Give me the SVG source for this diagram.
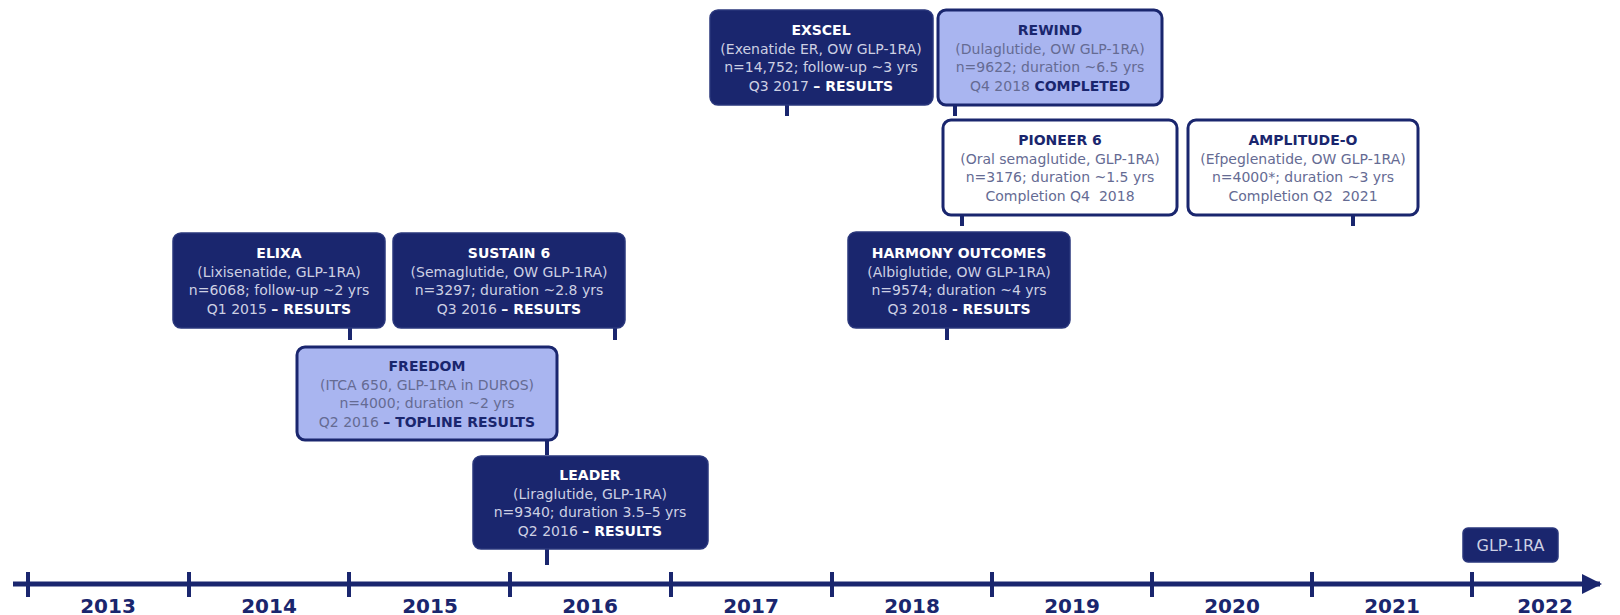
<svg xmlns="http://www.w3.org/2000/svg" width="1620" height="615" viewBox="0 0 1620 615">
  <style>
    text { font-family: "DejaVu Sans", Verdana, sans-serif; font-size: 14px; text-anchor: middle; }
    .dark rect { fill: #1a266e; stroke: #2a377c; stroke-width: 1.5; }
    .light rect { fill: #a9b5f0; stroke: #1a266e; stroke-width: 3; }
    .white rect { fill: #ffffff; stroke: #1a266e; stroke-width: 3; }
    .dark text { fill: #cdd0e3; }
    .dark .t, .dark .b { fill: #ffffff; font-weight: bold; }
    .light text, .white text { fill: #656b93; }
    .light .t, .light .b, .white .t { fill: #1a266e; font-weight: bold; }
    .stub { stroke: #1a266e; stroke-width: 4; }
    .axis { stroke: #1a266e; stroke-width: 5; fill: none; }
    .tick { stroke: #1a266e; stroke-width: 4; }
    .year { font-size: 20px; font-weight: bold; fill: #1a266e; }
  </style>
  <defs>
    <marker id="arrow" viewBox="0 0 10 10" refX="9" refY="5" markerWidth="4" markerHeight="4" markerUnits="strokeWidth" orient="auto">
      <path d="M0,0 L10,5 L0,10 Z" fill="#1a266e"/>
    </marker>
  </defs>

  <rect width="1620" height="615" fill="#ffffff"/>

  <!-- callout stubs and time axis -->
  <g id="connectors">
    <line class="stub" x1="350" y1="327" x2="350" y2="340"/>
    <line class="stub" x1="615" y1="327" x2="615" y2="340"/>
    <line class="stub" x1="547" y1="439" x2="547" y2="455"/>
    <line class="stub" x1="547" y1="548" x2="547" y2="565"/>
    <line class="stub" x1="787" y1="104" x2="787" y2="116"/>
    <line class="stub" x1="955" y1="104" x2="955" y2="116"/>
    <line class="stub" x1="962" y1="214" x2="962" y2="226"/>
    <line class="stub" x1="1353" y1="214" x2="1353" y2="226"/>
    <line class="stub" x1="947" y1="327" x2="947" y2="340"/>
    <line class="axis" x1="13" y1="584" x2="1600" y2="584" marker-end="url(#arrow)"/>
    <g class="ticks">
      <line class="tick" x1="28" y1="572" x2="28" y2="597"/>
      <line class="tick" x1="189" y1="572" x2="189" y2="597"/>
      <line class="tick" x1="349" y1="572" x2="349" y2="597"/>
      <line class="tick" x1="510" y1="572" x2="510" y2="597"/>
      <line class="tick" x1="671" y1="572" x2="671" y2="597"/>
      <line class="tick" x1="832" y1="572" x2="832" y2="597"/>
      <line class="tick" x1="992" y1="572" x2="992" y2="597"/>
      <line class="tick" x1="1152" y1="572" x2="1152" y2="597"/>
      <line class="tick" x1="1312" y1="572" x2="1312" y2="597"/>
      <line class="tick" x1="1472" y1="572" x2="1472" y2="597"/>
    </g>
  </g>

  <!-- year labels -->
  <g id="years">
    <text class="year" x="108" y="613">2013</text>
    <text class="year" x="269" y="613">2014</text>
    <text class="year" x="430" y="613">2015</text>
    <text class="year" x="590" y="613">2016</text>
    <text class="year" x="751" y="613">2017</text>
    <text class="year" x="912" y="613">2018</text>
    <text class="year" x="1072" y="613">2019</text>
    <text class="year" x="1232" y="613">2020</text>
    <text class="year" x="1392" y="613">2021</text>
    <text class="year" x="1545" y="613">2022</text>
  </g>

  <g id="elixa" class="dark">
    <rect x="173" y="233" width="212" height="95" rx="8"/>
    <text class="t" x="279" y="258">ELIXA</text>
    <text x="279" y="276.5">(Lixisenatide, GLP-1RA)</text>
    <text x="279" y="295">n=6068; follow-up ~2 yrs</text>
    <text x="279" y="313.5">Q1 2015 <tspan class="b">– RESULTS</tspan></text>
  </g>

  <g id="sustain6" class="dark">
    <rect x="393" y="233" width="232" height="95" rx="8"/>
    <text class="t" x="509" y="258">SUSTAIN 6</text>
    <text x="509" y="276.5">(Semaglutide, OW GLP-1RA)</text>
    <text x="509" y="295">n=3297; duration ~2.8 yrs</text>
    <text x="509" y="313.5">Q3 2016 <tspan class="b">– RESULTS</tspan></text>
  </g>

  <g id="freedom" class="light">
    <rect x="297" y="347" width="260" height="93" rx="8"/>
    <text class="t" x="427" y="371">FREEDOM</text>
    <text x="427" y="389.5">(ITCA 650, GLP-1RA in DUROS)</text>
    <text x="427" y="408">n=4000; duration ~2 yrs</text>
    <text x="427" y="426.5">Q2 2016 <tspan class="b">– TOPLINE RESULTS</tspan></text>
  </g>

  <g id="leader" class="dark">
    <rect x="473" y="456" width="235" height="93" rx="8"/>
    <text class="t" x="590" y="480">LEADER</text>
    <text x="590" y="498.5">(Liraglutide, GLP-1RA)</text>
    <text x="590" y="517">n=9340; duration 3.5–5 yrs</text>
    <text x="590" y="535.5">Q2 2016 <tspan class="b">– RESULTS</tspan></text>
  </g>

  <g id="exscel" class="dark">
    <rect x="710" y="10" width="223" height="95" rx="8"/>
    <text class="t" x="821" y="35">EXSCEL</text>
    <text x="821" y="53.5">(Exenatide ER, OW GLP-1RA)</text>
    <text x="821" y="72">n=14,752; follow-up ~3 yrs</text>
    <text x="821" y="90.5">Q3 2017 <tspan class="b">– RESULTS</tspan></text>
  </g>

  <g id="rewind" class="light">
    <rect x="938" y="10" width="224" height="95" rx="8"/>
    <text class="t" x="1050" y="35">REWIND</text>
    <text x="1050" y="53.5">(Dulaglutide, OW GLP-1RA)</text>
    <text x="1050" y="72">n=9622; duration ~6.5 yrs</text>
    <text x="1050" y="90.5">Q4 2018 <tspan class="b">COMPLETED</tspan></text>
  </g>

  <g id="pioneer6" class="white">
    <rect x="943" y="120" width="234" height="95" rx="8"/>
    <text class="t" x="1060" y="145">PIONEER 6</text>
    <text x="1060" y="163.5">(Oral semaglutide, GLP-1RA)</text>
    <text x="1060" y="182">n=3176; duration ~1.5 yrs</text>
    <text x="1060" y="200.5" xml:space="preserve">Completion Q4  2018</text>
  </g>

  <g id="amplitude-o" class="white">
    <rect x="1188" y="120" width="230" height="95" rx="8"/>
    <text class="t" x="1303" y="145">AMPLITUDE-O</text>
    <text x="1303" y="163.5">(Efpeglenatide, OW GLP-1RA)</text>
    <text x="1303" y="182">n=4000*; duration ~3 yrs</text>
    <text x="1303" y="200.5" xml:space="preserve">Completion Q2  2021</text>
  </g>

  <g id="harmony-outcomes" class="dark">
    <rect x="848" y="232" width="222" height="96" rx="8"/>
    <text class="t" x="959" y="258">HARMONY OUTCOMES</text>
    <text x="959" y="276.5">(Albiglutide, OW GLP-1RA)</text>
    <text x="959" y="295">n=9574; duration ~4 yrs</text>
    <text x="959" y="313.5">Q3 2018 <tspan class="b">- RESULTS</tspan></text>
  </g>

  <g id="legend-glp1ra" class="dark">
    <rect x="1463" y="528" width="95" height="34" rx="5"/>
    <text x="1510.5" y="551" style="font-size:16px">GLP-1RA</text>
  </g>
</svg>
